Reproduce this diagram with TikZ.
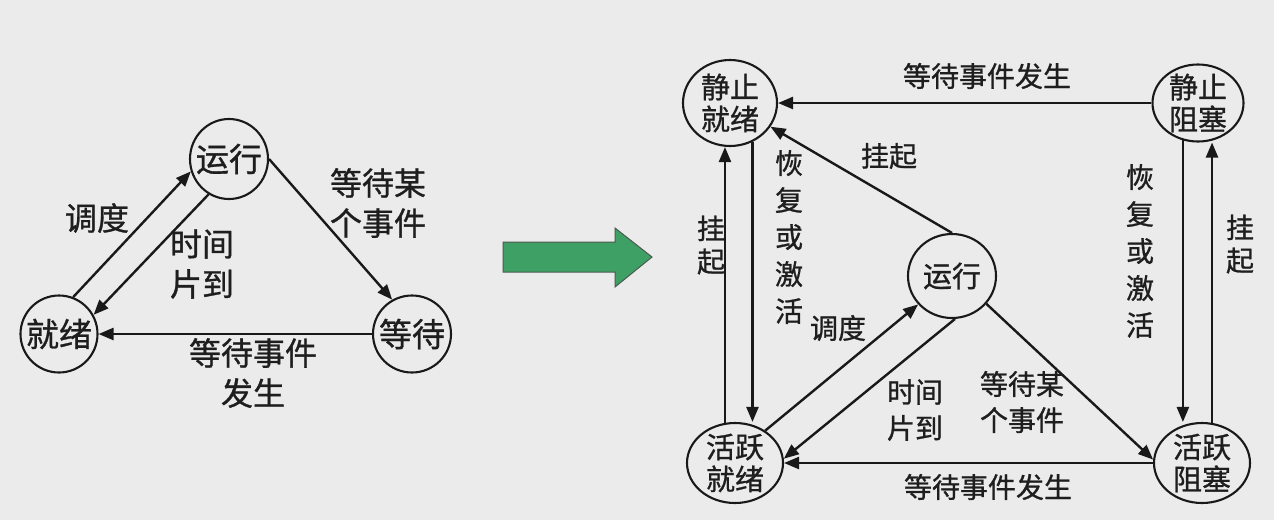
\documentclass[tikz,border=0pt]{standalone}
\usepackage{fontspec}
\newfontfamily\cjk[FakeBold=0.9]{Noto Sans CJK SC}
\usetikzlibrary{shapes.geometric,arrows.meta}
\definecolor{bg}{RGB}{235,235,235}
\definecolor{txt}{RGB}{30,30,30}
\definecolor{grn}{RGB}{62,160,100}
\definecolor{grnline}{RGB}{75,90,80}
\begin{document}
\begin{tikzpicture}[x=1pt,y=-1pt,
  st/.style={draw=black!90, line width=2.1pt, ellipse, inner sep=0pt},
  inL/.style={font=\cjk\fontsize{33}{40}\selectfont, text=txt, align=center, inner sep=0pt},
  inR/.style={font=\cjk\fontsize{29}{32}\selectfont, text=txt, align=center, inner sep=0pt},
  lblL/.style={font=\cjk\fontsize{32}{40}\selectfont, text=txt, align=center, inner sep=0pt},
  lblR/.style={font=\cjk\fontsize{28}{36}\selectfont, text=txt, align=center, inner sep=0pt},
  vertA/.style={font=\cjk\fontsize{28}{37}\selectfont, text=txt, align=center, inner sep=0pt},
  vertB/.style={font=\cjk\fontsize{28}{33}\selectfont, text=txt, align=center, inner sep=0pt},
  arr/.style={draw=black!90, line width=2.4pt, -{Triangle[length=15pt,width=12pt]}},
]
\fill[bg] (0,0) rectangle (1274,520);
\useasboundingbox (0,0) rectangle (1274,520);

% ---------- left diagram ----------
\node[st, minimum width=78pt, minimum height=80pt, label={[inL]center:运行}] (R) at (229,159) {};
\node[st, minimum width=77pt, minimum height=77pt, label={[inL]center:就绪}] (J) at (59,334) {};
\node[st, minimum width=78pt, minimum height=77pt, label={[inL]center:等待}] (D) at (412,334) {};

\draw[arr] (J.69) -- (R.198);
\draw[arr] (R.240) -- (J.29);
\draw[arr] (R.0) -- (D.120);
\draw[arr] (D.west) -- (J.east);

\node[lblL] (l1) at (97,218) {调度};
\node[lblL] (l2) at (202,264) {时间\\片到};
\node[lblL] (l3) at (378,203) {等待某\\个事件};
\node[lblL] (l4) at (253,373) {等待事件\\发生};

% ---------- green arrow ----------
\filldraw[fill=grn, draw=grnline, line width=1pt]
  (503,242) -- (615,242) -- (615,228) -- (652,257) -- (615,287) -- (615,272) -- (503,272) -- cycle;

% ---------- right diagram ----------
\node[st, minimum width=94pt, minimum height=86pt, label={[inR]center:静止\\就绪}] (SJ) at (730,103) {};
\node[st, minimum width=91pt, minimum height=77pt, label={[inR]center:静止\\阻塞}] (SB) at (1198,103) {};
\node[st, minimum width=88pt, minimum height=84pt, label={[inR]center:运行}] (R2) at (952,276) {};
\node[st, minimum width=96pt, minimum height=80pt, label={[inR]center:活跃\\就绪}] (AJ) at (735,463) {};
\node[st, minimum width=96pt, minimum height=80pt, label={[inR]center:活跃\\阻塞}] (AB) at (1202,463) {};

\draw[arr] (SB.west) -- (SJ.east);
\draw[arr] (R2.north) -- (SJ);
\draw[arr] (SJ.-60) -- (SJ.-60 |- AJ.north);
\draw[arr] (AJ.104) -- (AJ.104 |- SJ.south);
\draw[arr] (SB.-112) -- (SB.-112 |- AB.north);
\draw[arr] (AB.76) -- (AB.76 |- SB.south);
\draw[arr] (AJ.47) -- (R2.220);
\draw[arr] (R2.-86) -- (AJ.5);
\draw[arr] (R2.-39) -- (AB.176);
\draw[arr] (AB.west) -- (AJ.east);

\node[lblR] (r1) at (987,76) {等待事件发生};
\node[lblR] (r2) at (889,156) {挂起};
\node[vertB] (r3) at (711,245) {挂\\起};
\node[vertA] (r4) at (789,237) {恢\\复\\或\\激\\活};
\node[vertA] (r5) at (1140,251) {恢\\复\\或\\激\\活};
\node[vertB] (r6) at (1240,244) {挂\\起};
\node[lblR] (r7) at (838,328) {调度};
\node[lblR] (r8) at (915,410) {时间\\片到};
\node[lblR] (r9) at (1022,402) {等待某\\个事件};
\node[lblR] (r10) at (988,487) {等待事件发生};
\end{tikzpicture}
\end{document}
